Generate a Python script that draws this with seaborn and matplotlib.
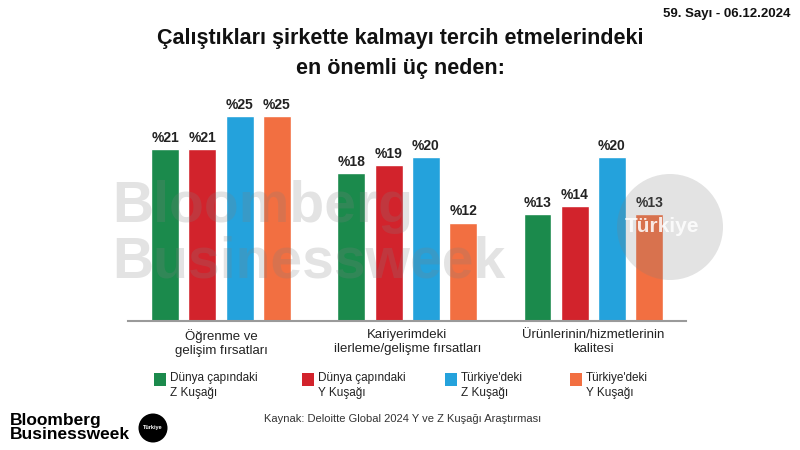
# Çalıştıkları şirkette kalma nedenleri – grouped bar chart
import pandas as pd
import matplotlib.pyplot as plt
import seaborn as sns
from matplotlib.patches import Ellipse, Rectangle

# ── data ─────────────────────────────────────────────────────
categories = ["Öğrenme ve\ngelişim fırsatları",
              "Kariyerimdeki\nilerleme/gelişme fırsatları",
              "Ürünlerinin/hizmetlerinin\nkalitesi"]
series = ["Dünya çapındaki\nZ Kuşağı", "Dünya çapındaki\nY Kuşağı",
          "Türkiye'deki\nZ Kuşağı", "Türkiye'deki\nY Kuşağı"]
world_z = [21, 18, 13]
world_y = [21, 19, 14]
turkey_z = [25, 20, 20]
turkey_y = [25, 12, 13]
colors = ["#1b8a4c", "#d2232c", "#24a2dc", "#f26f41"]

df = pd.DataFrame({
    "kategori": categories * 4,
    "grup": [s for s in series for _ in categories],
    "deger": world_z + world_y + turkey_z + turkey_y,
})

sns.set_theme(style="white")
plt.rcParams["font.family"] = ["Liberation Sans", "DejaVu Sans"]

W, H = 800, 450
fig = plt.figure(figsize=(8, 4.5), dpi=100)
ax = fig.add_axes([0.16, 0.287, 0.698, 0.455])

sns.barplot(data=df, x="kategori", y="deger", hue="grup", order=categories,
            hue_order=series, palette=colors, width=0.8, gap=0.25,
            saturation=1, legend=False, ax=ax, zorder=2)

for cont in ax.containers:
    ax.bar_label(cont, labels=[f"%{v:g}" for v in cont.datavalues], padding=3,
                 fontsize=10, fontweight="bold", color="#222222")

ax.set_xlim(-0.5, 2.5)
ax.set_ylim(0, 25)
ax.set_xlabel("")
ax.set_ylabel("")
ax.set_yticks([])
ax.tick_params(axis="x", length=0, labelsize=9.5, pad=6, colors="#222222")
for s in ["top", "right", "left"]:
    ax.spines[s].set_visible(False)
ax.spines["bottom"].set_color("#9a9a9a")
ax.spines["bottom"].set_linewidth(1.5)

# watermark
wm = dict(fontsize=41, fontweight="bold", color="#808080", alpha=0.22,
          ha="left", va="baseline", zorder=5)
fig.text(0.14, 1 - 222 / H, "Bloomberg", **wm)
fig.text(0.14, 1 - 278 / H, "Businessweek", **wm)
fig.patches.append(Ellipse((670 / W, 1 - 227 / H), 106 / W, 106 / H,
                           transform=fig.transFigure, facecolor="#808080",
                           alpha=0.22, edgecolor="none", zorder=5))
fig.text(662 / W, 1 - 227 / H, "Türkiye", fontsize=15, fontweight="bold",
         color="white", alpha=0.85, ha="center", va="center", zorder=6)

# titles
fig.text(0.5, 0.915, "Çalıştıkları şirkette kalmayı tercih etmelerindeki",
         ha="center", va="center", fontsize=15.5, fontweight="bold", color="#111111")
fig.text(0.5, 0.848, "en önemli üç neden:", ha="center", va="center",
         fontsize=15.5, fontweight="bold", color="#111111")
fig.text(0.988, 0.968, "59. Sayı - 06.12.2024", ha="right", va="center",
         fontsize=9.5, fontweight="bold", color="#111111")

# legend
leg_x = [0.193, 0.378, 0.556, 0.712]
for x, name, c in zip(leg_x, series, colors):
    fig.patches.append(Rectangle((x, 0.143), 0.015, 0.028,
                                 transform=fig.transFigure, facecolor=c,
                                 edgecolor="none"))
    fig.text(x + 0.02, 0.143, name, ha="left", va="center", fontsize=8.5,
             color="#222222", linespacing=1.3)

fig.text(0.33, 0.068, "Kaynak: Deloitte Global 2024 Y ve Z Kuşağı Araştırması",
         ha="left", va="center", fontsize=8, color="#333333")

# logo
fig.text(0.012, 0.05, "Bloomberg\nBusinessweek", ha="left", va="center",
         fontsize=12.5, fontweight="bold", color="black", linespacing=0.85)
fig.patches.append(Ellipse((153 / W, 1 - 428 / H), 29 / W, 29 / H,
                           transform=fig.transFigure, facecolor="black",
                           edgecolor="none"))
fig.text(153 / W, 1 - 428 / H, "Türkiye", ha="center", va="center",
         fontsize=4, color="white", fontweight="bold")

fig.savefig("out.png", dpi=100, facecolor="white")
